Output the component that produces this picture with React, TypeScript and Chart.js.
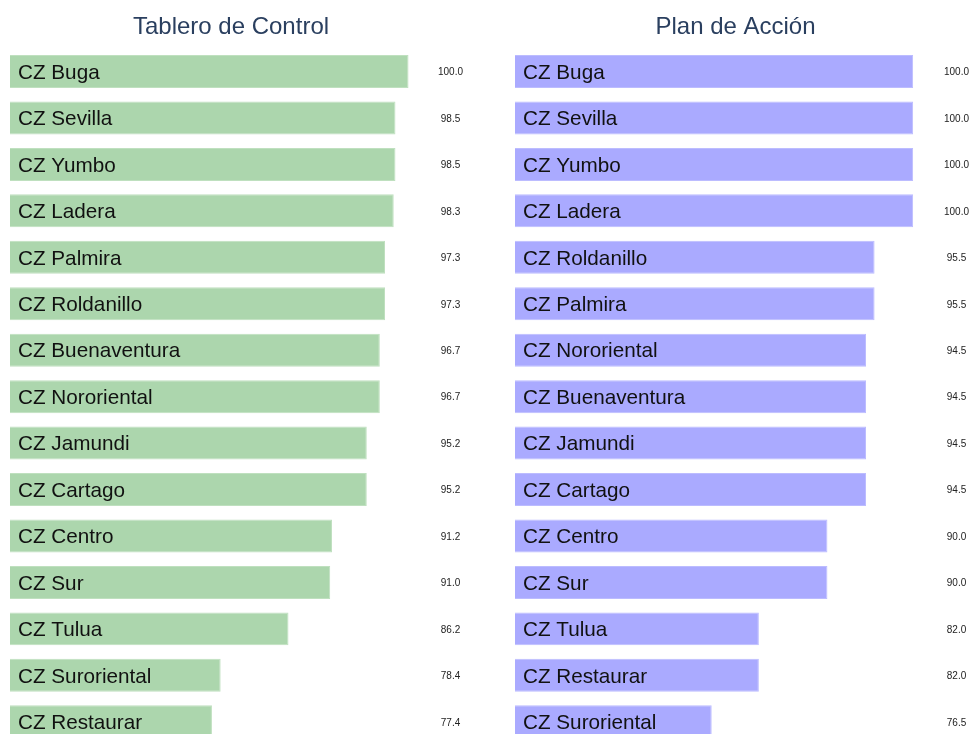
import React, { useEffect, useRef } from "react";
import { Chart, registerables } from "chart.js";

Chart.register(...registerables);

const leftTitle = "Tablero de Control";
const leftCategories = [
  "CZ Buga", "CZ Sevilla", "CZ Yumbo", "CZ Ladera", "CZ Palmira", "CZ Roldanillo",
  "CZ Buenaventura", "CZ Nororiental", "CZ Jamundi", "CZ Cartago", "CZ Centro",
  "CZ Sur", "CZ Tulua", "CZ Suroriental", "CZ Restaurar",
];
const leftValues = [100.0, 98.5, 98.5, 98.3, 97.3, 97.3, 96.7, 96.7, 95.2, 95.2, 91.2, 91.0, 86.2, 78.4, 77.4];

const rightTitle = "Plan de Acción";
const rightCategories = [
  "CZ Buga", "CZ Sevilla", "CZ Yumbo", "CZ Ladera", "CZ Roldanillo", "CZ Palmira",
  "CZ Nororiental", "CZ Buenaventura", "CZ Jamundi", "CZ Cartago", "CZ Centro",
  "CZ Sur", "CZ Tulua", "CZ Restaurar", "CZ Suroriental",
];
const rightValues = [100.0, 100.0, 100.0, 100.0, 95.5, 95.5, 94.5, 94.5, 94.5, 94.5, 90.0, 90.0, 82.0, 82.0, 76.5];

const FONT = "'Liberation Sans', Arial, Helvetica, sans-serif";

function labelsPlugin(title: string, valueOffset: number) {
  return {
    id: "customLabels",
    afterDatasetsDraw(chart: any) {
      const { ctx, chartArea } = chart;
      const meta = chart.getDatasetMeta(0);
      const labels = chart.data.labels as string[];
      const values = chart.data.datasets[0].data as number[];
      ctx.save();
      ctx.font = `24px ${FONT}`;
      ctx.fillStyle = "#2a3f5f";
      ctx.textAlign = "center";
      ctx.textBaseline = "alphabetic";
      ctx.fillText(title, (chartArea.left + chartArea.right) / 2, 34);
      meta.data.forEach((bar: any, i: number) => {
        ctx.font = `20.7px ${FONT}`;
        ctx.fillStyle = "#111111";
        ctx.textAlign = "left";
        ctx.textBaseline = "middle";
        ctx.fillText(labels[i], chartArea.left + 8, bar.y + 1.5);
        ctx.font = `10px ${FONT}`;
        ctx.fillStyle = "#222222";
        ctx.textAlign = "center";
        ctx.fillText(values[i].toFixed(1), chartArea.right + valueOffset, bar.y + 1);
      });
      ctx.restore();
    },
  };
}

function BarPanel(props: {
  title: string;
  categories: string[];
  values: number[];
  fill: string;
  border: string;
  padLeft: number;
  padRight: number;
  valueOffset: number;
}) {
  const ref = useRef<HTMLCanvasElement>(null);
  useEffect(() => {
    if (!ref.current) return;
    const min = Math.min(...props.values) * 0.7;
    const max = Math.max(...props.values) * 1.05;
    const chart = new Chart(ref.current, {
      type: "bar",
      data: {
        labels: props.categories,
        datasets: [
          {
            data: props.values,
            backgroundColor: props.fill,
            borderColor: props.border,
            borderWidth: 1,
            borderSkipped: false,
            barPercentage: 0.71,
            categoryPercentage: 1,
          },
        ],
      },
      options: {
        indexAxis: "y",
        animation: false,
        responsive: false,
        maintainAspectRatio: false,
        layout: { padding: { left: props.padLeft, right: props.padRight, top: 48.3, bottom: 0 } },
        plugins: { legend: { display: false }, tooltip: { enabled: false }, title: { display: false } },
        scales: {
          x: { display: false, min, max },
          y: { display: false },
        },
      },
      plugins: [labelsPlugin(props.title, props.valueOffset)],
    });
    return () => chart.destroy();
  }, []);
  return <canvas ref={ref} width={486} height={745} style={{ display: "block", width: 486, height: 745 }} />;
}

export default function App() {
  useEffect(() => {
    document.body.style.margin = "0";
  }, []);
  return (
    <div style={{ position: "absolute", left: 0, top: 0, width: 972, height: 734, overflow: "hidden", background: "#fff", display: "flex" }}>
      <BarPanel title={leftTitle} categories={leftCategories} values={leftValues} fill="#acd6ad" border="#bfe0bf" padLeft={10} padRight={34} valueOffset={-1.5} />
      <BarPanel title={rightTitle} categories={rightCategories} values={rightValues} fill="#aaaaff" border="#bcbcff" padLeft={29} padRight={16} valueOffset={0.5} />
    </div>
  );
}
